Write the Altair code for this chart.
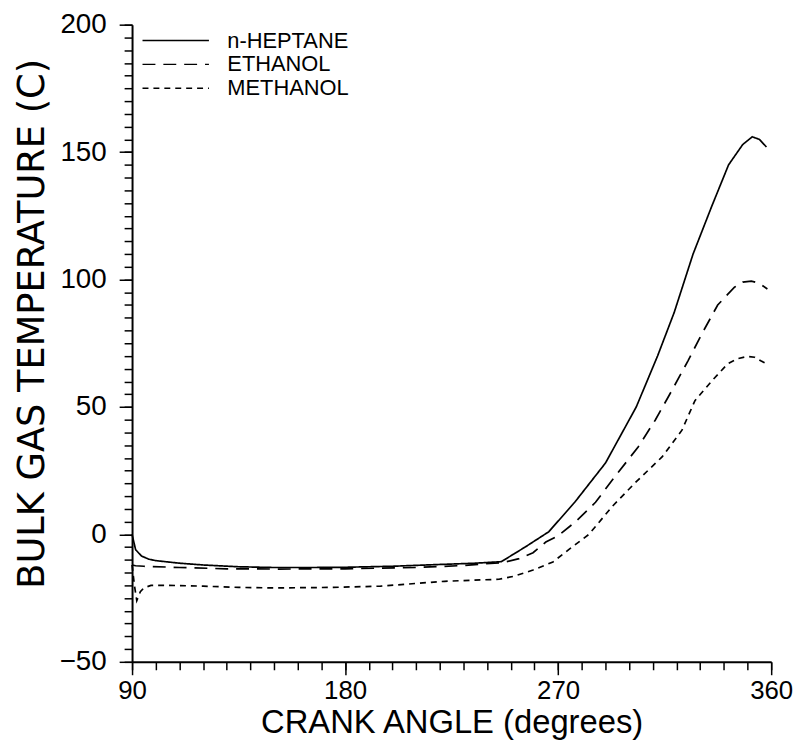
import altair as alt
import pandas as pd

series_names = ["n-HEPTANE", "ETHANOL", "METHANOL"]

heptane_x = [90, 91.5, 94, 97, 100, 110, 120, 135, 150, 165, 180, 200, 220, 235, 246, 256, 266, 277, 290, 303, 312, 319, 327, 335, 342, 348, 352, 355, 358]
heptane_y = [0, -6, -8.5, -9.7, -10.3, -11.3, -12, -12.7, -13, -13, -12.9, -12.5, -11.8, -11.3, -10.7, -5, 1, 12.6, 28, 50, 70, 87, 110, 129, 145, 153, 156, 155, 152]

ethanol_x = [90, 91.5, 95, 110, 130, 150, 180, 210, 230, 247, 253.5, 259.4, 264.8, 270, 277.4, 285.8, 294, 303.8, 311, 318, 324.8, 330.6, 337.4, 344.5, 348, 351.6, 355, 358.4]
ethanol_y = [-12, -12.3, -12.5, -13, -13.5, -13.6, -13.5, -13, -12.2, -11, -9.5, -7.2, -3, -0.5, 5, 12.6, 22.7, 34.3, 44.8, 56.4, 68, 78.5, 90, 97, 99, 99.4, 98.5, 96.3]

methanol_x = [90, 91, 92, 93.5, 95, 98, 105, 120, 135, 150, 175, 195, 222, 245, 251, 259.4, 267.8, 275, 283, 292.9, 302.6, 313.9, 322.3, 327.8, 335, 341.6, 346, 350, 353, 355.8, 358]
methanol_y = [-12, -20, -26, -22.5, -21, -20, -20, -20.3, -20.8, -21, -20.8, -20.3, -18.4, -17.6, -16.5, -14, -10.8, -5.6, 0, 11, 20.3, 30.4, 40.9, 52.5, 60.3, 66.9, 69, 69.8, 69.5, 68, 67]

x_major = [90, 180, 270, 360]
x_minor = list(range(90, 361, 10))
y_major = [-50, 0, 50, 100, 150, 200]
y_minor = list(range(-50, 201, 5))

rows = []
for name, xs, ys in [
    ("n-HEPTANE", heptane_x, heptane_y),
    ("ETHANOL", ethanol_x, ethanol_y),
    ("METHANOL", methanol_x, methanol_y),
]:
    for i, (a, b) in enumerate(zip(xs, ys)):
        rows.append({"fuel": name, "angle": a, "temp": b, "idx": i})
df = pd.DataFrame(rows)

FONT = "Liberation Sans"
xscale = alt.Scale(domain=[90, 360], nice=False, zero=False)
yscale = alt.Scale(domain=[-50, 200], nice=False, zero=False)

base = alt.Chart(df)

minor = base.mark_line(opacity=0).encode(
    x=alt.X(
        "angle:Q",
        scale=xscale,
        axis=alt.Axis(orient="bottom", values=x_minor, ticks=True, tickSize=8,
                      tickColor="black", tickWidth=1.5, tickOpacity=1,
                      labels=False, domain=False, title=None, grid=False),
    ),
    y=alt.Y(
        "temp:Q",
        scale=yscale,
        axis=alt.Axis(orient="left", values=y_minor, ticks=True, tickSize=8,
                      tickColor="black", tickWidth=1.5, tickOpacity=1,
                      labels=False, domain=False, title=None, grid=False),
    ),
    detail="fuel:N",
)

lines = base.mark_line(color="black", strokeWidth=1.7).encode(
    x=alt.X(
        "angle:Q",
        scale=xscale,
        axis=alt.Axis(
            orient="bottom",
            title="CRANK ANGLE (degrees)",
            values=x_major,
            ticks=True,
            tickSize=13,
            tickColor="black",
            tickWidth=1.5,
            tickOpacity=1,
            labelFlush=False,
            labelOverlap=False,
            labelPadding=3,
            labelFontSize=26,
            titleFontSize=33,
            titleFontWeight="normal",
            titleY=71,
            titleBaseline="alphabetic",
            grid=False,
        ),
    ),
    y=alt.Y(
        "temp:Q",
        scale=yscale,
        axis=alt.Axis(
            orient="left",
            title="BULK GAS TEMPERATURE (C)",
            values=y_major,
            ticks=True,
            tickSize=13,
            tickColor="black",
            tickWidth=1.5,
            tickOpacity=1,
            labelFlush=False,
            labelOverlap=False,
            labelPadding=13,
            labelFontSize=28,
            titleFont="DejaVu Sans",
            titleFontSize=37,
            titleFontWeight="normal",
            titleAngle=270,
            titleAlign="center",
            titleBaseline="middle",
            titleX=-100,
            titleY=301,
            grid=False,
        ),
    ),
    strokeDash=alt.StrokeDash(
        "fuel:N",
        scale=alt.Scale(domain=series_names, range=[[1, 0], [13, 8], [6, 5]]),
        legend=alt.Legend(
            title=None,
            orient="none",
            legendX=33,
            legendY=5,
            symbolType="M-4,0H4",
            symbolSize=280,
            symbolStrokeWidth=1.5,
            symbolStrokeColor="black",
            symbolFillColor="transparent",
            labelFontSize=22,
            labelOffset=41,
            rowPadding=2,
            padding=0,
        ),
    ),
    order="idx:Q",
)

chart = alt.layer(minor, lines).resolve_axis(
    x="independent", y="independent"
).properties(
    width=644,
    height=642,
    autosize=alt.AutoSizeParams(type="none"),
    padding={"left": 125, "top": 14, "right": 24, "bottom": 80},
).configure_view(stroke=None).configure_axis(
    domainColor="black",
    domainWidth=2,
    tickColor="black",
    tickWidth=1.5,
    labelColor="black",
    titleColor="black",
    labelFont=FONT,
    titleFont=FONT,
).configure_legend(labelFont=FONT, labelColor="black")

chart.save("out.html", embed_options={"renderer": "svg", "actions": False})
